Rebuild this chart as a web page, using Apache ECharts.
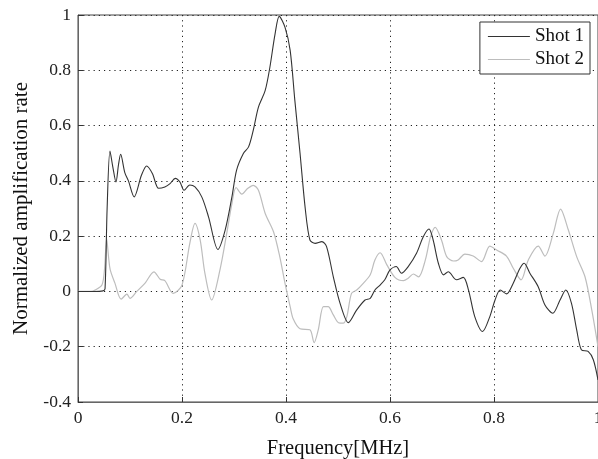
<!DOCTYPE html>
<html>
<head>
<meta charset="utf-8">
<script src="https://cdn.jsdelivr.net/npm/echarts@6/dist/echarts.min.js"></script>
<style>
  html, body { margin: 0; padding: 0; background: #fff; }
  #chart { width: 598px; height: 459px; }
</style>
</head>
<body>
<div id="chart"></div>
<script>
// values
const shot1Freq = [0, 0.03, 0.048, 0.052, 0.056, 0.0615, 0.067, 0.073, 0.078, 0.082, 0.09, 0.097, 0.108, 0.122, 0.132, 0.143, 0.155, 0.167, 0.177, 0.187, 0.196, 0.204, 0.215, 0.225, 0.238, 0.251, 0.269, 0.283, 0.296, 0.305, 0.318, 0.328, 0.337, 0.347, 0.36, 0.369, 0.379, 0.387, 0.398, 0.408, 0.417, 0.427, 0.437, 0.446, 0.456, 0.469, 0.478, 0.491, 0.504, 0.52, 0.536, 0.552, 0.562, 0.571, 0.581, 0.59, 0.6, 0.612, 0.622, 0.635, 0.651, 0.664, 0.675, 0.683, 0.693, 0.703, 0.712, 0.728, 0.741, 0.751, 0.763, 0.778, 0.792, 0.802, 0.812, 0.824, 0.837, 0.85, 0.858, 0.869, 0.885, 0.898, 0.913, 0.927, 0.938, 0.949, 0.959, 0.968, 0.981, 0.991, 1.0];
const shot1Vals = [0, 0, 0.002, 0.01, 0.3, 0.508, 0.45, 0.396, 0.46, 0.496, 0.43, 0.4, 0.342, 0.42, 0.454, 0.427, 0.373, 0.378, 0.39, 0.409, 0.396, 0.366, 0.385, 0.378, 0.342, 0.27, 0.152, 0.222, 0.342, 0.439, 0.499, 0.523, 0.583, 0.667, 0.727, 0.811, 0.932, 0.995, 0.956, 0.872, 0.691, 0.5, 0.3, 0.186, 0.174, 0.18, 0.162, 0.053, -0.043, -0.113, -0.067, -0.031, -0.025, 0.005, 0.023, 0.042, 0.078, 0.09, 0.066, 0.09, 0.138, 0.198, 0.226, 0.186, 0.102, 0.06, 0.071, 0.042, 0.051, 0.005, -0.091, -0.145, -0.091, -0.031, 0.005, -0.009, 0.03, 0.084, 0.102, 0.066, 0.017, -0.049, -0.079, -0.031, 0.005, -0.043, -0.139, -0.211, -0.217, -0.247, -0.32];

const shot2Freq = [0, 0.025, 0.033, 0.046, 0.051, 0.055, 0.059, 0.062, 0.071, 0.083, 0.094, 0.1, 0.113, 0.129, 0.146, 0.158, 0.167, 0.183, 0.2, 0.215, 0.225, 0.235, 0.244, 0.257, 0.273, 0.286, 0.296, 0.304, 0.315, 0.326, 0.337, 0.347, 0.36, 0.376, 0.388, 0.398, 0.408, 0.414, 0.427, 0.446, 0.454, 0.462, 0.472, 0.481, 0.491, 0.501, 0.51, 0.517, 0.526, 0.536, 0.549, 0.562, 0.571, 0.581, 0.594, 0.61, 0.626, 0.635, 0.645, 0.655, 0.668, 0.678, 0.687, 0.699, 0.709, 0.722, 0.731, 0.744, 0.76, 0.776, 0.792, 0.805, 0.824, 0.837, 0.852, 0.866, 0.885, 0.898, 0.914, 0.928, 0.943, 0.959, 0.975, 0.988, 1.0];
const shot2Vals = [0, 0, 0.005, 0.023, 0.08, 0.192, 0.12, 0.078, 0.03, -0.028, -0.01, -0.025, 0, 0.03, 0.071, 0.044, 0.039, -0.007, 0.023, 0.174, 0.246, 0.186, 0.066, -0.031, 0.078, 0.21, 0.318, 0.376, 0.352, 0.372, 0.384, 0.366, 0.282, 0.216, 0.126, 0.03, -0.055, -0.1, -0.135, -0.139, -0.185, -0.139, -0.055, -0.055, -0.085, -0.113, -0.115, -0.091, -0.007, 0.005, 0.03, 0.06, 0.114, 0.14, 0.096, 0.05, 0.039, 0.048, 0.063, 0.053, 0.114, 0.198, 0.232, 0.186, 0.126, 0.11, 0.114, 0.135, 0.128, 0.108, 0.164, 0.15, 0.128, 0.084, 0.042, 0.114, 0.164, 0.128, 0.21, 0.298, 0.222, 0.126, 0.053, -0.067, -0.2];

const seriesNames = ['Shot 1', 'Shot 2'];
const xTickLabels = ['0', '0.2', '0.4', '0.6', '0.8', '1'];

const serif = '"Liberation Serif", "DejaVu Serif", serif';

function pairs(xs, ys) {
    return xs.map((x, i) => [x, ys[i]]);
}

const chart = echarts.init(document.getElementById('chart'));
const option = {
    animation: false,
    backgroundColor: '#fff',
    grid: {
        left: 78, right: 0, top: 15, bottom: 57,
        outerBoundsMode: 'none',
        containLabel: false,
        show: true, borderColor: '#444', borderWidth: 1
    },
    legend: {
        orient: 'vertical',
        right: 8, top: 22,
        backgroundColor: '#fff',
        borderColor: '#333', borderWidth: 1,
        padding: [5, 6, 5, 8],
        itemGap: 4,
        itemWidth: 42, itemHeight: 1,
        icon: 'rect',
        textStyle: { fontFamily: serif, fontSize: 19, color: '#111', padding: [0, 0, 0, 0] },
        data: seriesNames
    },
    xAxis: {
        type: 'value', min: 0, max: 1, interval: 0.2,
        name: 'Frequency[MHz]', nameLocation: 'middle', nameGap: 36,
        nameTextStyle: { fontFamily: serif, fontSize: 20.5, color: '#111' },
        axisLine: { onZero: false, lineStyle: { color: '#666' } },
        axisTick: { inside: true, length: 5, lineStyle: { color: '#333' } },
        axisLabel: {
            fontFamily: serif, fontSize: 17.5, color: '#222', margin: 7,
            formatter: v => xTickLabels[Math.round(v / 0.2)]
        },
        splitLine: { show: true, lineStyle: { color: '#222', type: [1.2, 4], width: 1 } }
    },
    yAxis: {
        type: 'value', min: -0.4, max: 1, interval: 0.2,
        name: 'Normalized amplification rate', nameLocation: 'middle', nameGap: 45,
        nameTextStyle: { fontFamily: serif, fontSize: 21, color: '#111' },
        axisLine: { show: true, onZero: false, lineStyle: { color: '#666' } },
        axisTick: { show: true, inside: true, length: 5, lineStyle: { color: '#333' } },
        axisLabel: {
            fontFamily: serif, fontSize: 17.5, color: '#222', margin: 7,
            formatter: v => (Math.abs(v) < 1e-9 ? '0' : String(Math.round(v * 10) / 10))
        },
        splitLine: { show: true, lineStyle: { color: '#222', type: [1.2, 4], width: 1 } }
    },
    series: [
        {
            name: seriesNames[0], type: 'line', showSymbol: false, smooth: 0.3,
            data: pairs(shot1Freq, shot1Vals),
            itemStyle: { color: '#333' },
            lineStyle: { color: '#333', width: 1.1 },
            z: 3
        },
        {
            name: seriesNames[1], type: 'line', showSymbol: false, smooth: 0.3,
            data: pairs(shot2Freq, shot2Vals),
            itemStyle: { color: '#bdbdbd' },
            lineStyle: { color: '#bdbdbd', width: 1.2 },
            z: 2
        }
    ]
};
chart.setOption(option);
</script>
</body>
</html>
